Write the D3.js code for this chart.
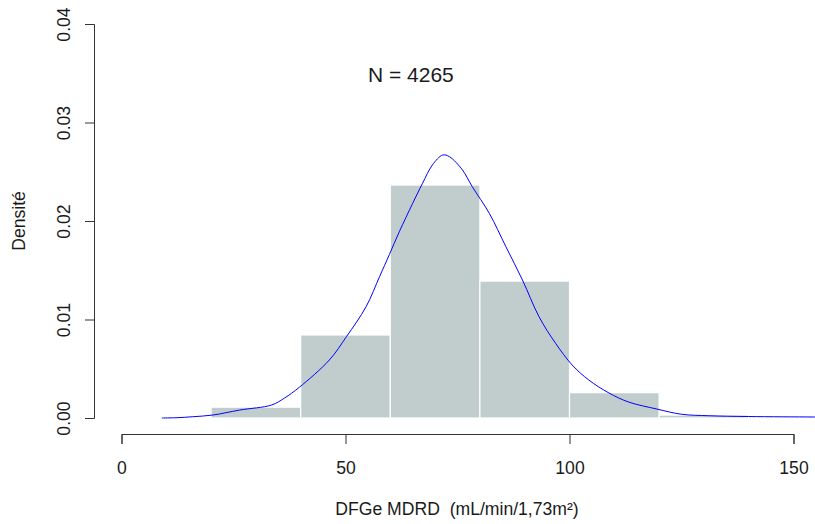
<!DOCTYPE html>
<html><head><meta charset="utf-8">
<script src="https://cdn.jsdelivr.net/npm/d3@7"></script>
<style>body{margin:0;background:#fff}svg{display:block}text{font-family:"Liberation Sans",Arial,sans-serif;fill:#1a1a1a}</style>
</head><body><svg id="c" width="815" height="524"></svg>
<script>
const binStarts = [20, 40, 60, 80, 100, 120];
const binWidth = 20;
const binDensity = [0.0011, 0.00843, 0.02365, 0.0139, 0.00257, 0.0003];
const curveX = [9.0, 12.4, 15.9, 20.4, 26.4, 33.5, 36.4, 39.7, 46.4, 50.2, 54.6, 57.6, 59.8, 62.0, 65.0, 67.2, 69.4, 71.7, 73.2, 76.1, 78.3, 82.1, 85.8, 89.5, 93.2, 96.9, 100.6, 104.3, 108.8, 113.2, 119.5, 125.0, 131.1, 140.0, 154.5, 160];
const curveY = [0.0, 0.00003, 0.00013, 0.0003, 0.00081, 0.00132, 0.00203, 0.00312, 0.00589, 0.00825, 0.0113, 0.01435, 0.0166, 0.0189, 0.0218, 0.02383, 0.02569, 0.0267, 0.02653, 0.02518, 0.02348, 0.02078, 0.01739, 0.01401, 0.01028, 0.00758, 0.00538, 0.00386, 0.00254, 0.00162, 0.00091, 0.00038, 0.00023, 0.00015, 0.0001, 0.00008];
const xTicks = [0, 50, 100, 150];
const yTicks = [0, 0.01, 0.02, 0.03, 0.04];
const titleText = "N = 4265";
const xLabel = "DFGe MDRD  (mL/min/1,73m²)";
const yLabel = "Densité";

const svg = d3.select("#c");
const x = d3.scaleLinear().domain([0, 150]).range([121.5, 793.5]);
const y = d3.scaleLinear().domain([0, 0.04]).range([418, 24]);

svg.append("defs").append("clipPath").attr("id","clip")
  .append("rect").attr("x",0).attr("y",0).attr("width",815).attr("height",430);

// bars
svg.append("g").selectAll("rect").data(binStarts).join("rect")
  .attr("x", (d) => x(d))
  .attr("width", (d) => x(d + binWidth) - x(d))
  .attr("y", (d, i) => y(binDensity[i]))
  .attr("height", (d, i) => y(0) - y(binDensity[i]))
  .attr("fill", "#C1CDCD").attr("stroke", "#fff").attr("stroke-width", 1.2);

// density curve
const pts = curveX.map((v, i) => [v, curveY[i]]);
svg.append("path").datum(pts)
  .attr("clip-path","url(#clip)")
  .attr("d", d3.line().x(d => x(d[0])).y(d => y(d[1])).curve(d3.curveCatmullRom.alpha(0.5)))
  .attr("fill", "none").attr("stroke", "#0000FF").attr("stroke-width", 1);

// x axis
const xa = svg.append("g").attr("transform", "translate(0,434)")
  .call(d3.axisBottom(x).tickValues(xTicks).tickSize(10).tickPadding(18).tickFormat(d3.format("d")));
xa.select(".domain").attr("stroke", "#333");
xa.selectAll(".tick line").attr("stroke", "#333");
xa.selectAll("text").attr("font-size", "17.6px").attr("fill", "#1a1a1a").attr("font-family", "Liberation Sans, Arial, sans-serif");

// y axis
const ya = svg.append("g").attr("transform", "translate(94,0)")
  .call(d3.axisLeft(y).tickValues(yTicks).tickSize(9).tickFormat(d3.format(".2f")));
ya.select(".domain").attr("stroke", "#333");
ya.selectAll(".tick line").attr("stroke", "#333");
ya.selectAll("text").attr("font-size", "17.6px").attr("fill", "#1a1a1a")
  .attr("font-family", "Liberation Sans, Arial, sans-serif")
  .attr("text-anchor", "middle").attr("x", null).attr("dy", null)
  .attr("transform", "translate(-24,0) rotate(-90)");

// labels
svg.append("text").attr("x", 457).attr("y", 515).attr("text-anchor", "middle")
  .attr("font-size", "17.6px").style("white-space", "pre").text(xLabel);
svg.append("text").attr("transform", "translate(25," + y(0.02) + ") rotate(-90)")
  .attr("text-anchor", "middle").attr("font-size", "17.6px").text(yLabel);
svg.append("text").attr("x", x(64.6)).attr("y", y(0.0341)).attr("text-anchor", "middle")
  .attr("font-size", "21px").text(titleText);
</script></body></html>
